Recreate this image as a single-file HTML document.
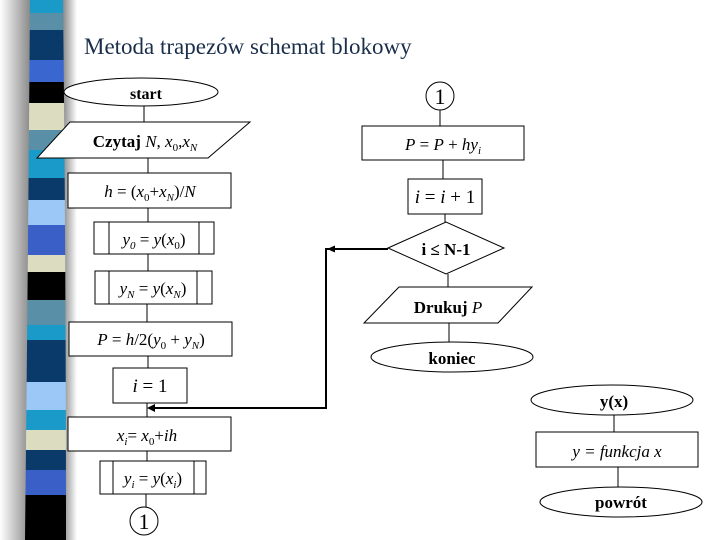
<!DOCTYPE html>
<html><head><meta charset="utf-8"><style>
html,body{margin:0;padding:0;background:#fff;}
svg{display:block;}
text{font-family:"Liberation Serif",serif;}
</style></head><body>
<svg width="720" height="540" viewBox="0 0 720 540" xmlns="http://www.w3.org/2000/svg">
<defs>
<linearGradient id="sl" x1="0" x2="1"><stop offset="0" stop-color="#fff"/><stop offset="1" stop-color="#8a8a8a"/></linearGradient>
<linearGradient id="sr" x1="0" x2="1"><stop offset="0" stop-color="#8a8a8a"/><stop offset="1" stop-color="#fff"/></linearGradient>
<clipPath id="bar"><path d="M30 0 L63 0 Q66 270 66 540 L25 540 Q28 270 30 0Z"/></clipPath>
</defs>
<rect x="0" y="0" width="30" height="540" fill="url(#sl)"/>
<rect x="63" y="0" width="14" height="540" fill="url(#sr)"/>
<g clip-path="url(#bar)">
<rect x="0" y="0" width="80" height="13" fill="#1a9ac8"/>
<rect x="0" y="13" width="80" height="17" fill="#5a8fa8"/>
<rect x="0" y="30" width="80" height="30" fill="#0a3a6a"/>
<rect x="0" y="60" width="80" height="22" fill="#3a66d0"/>
<rect x="0" y="82" width="80" height="21" fill="#000"/>
<rect x="0" y="103" width="80" height="27" fill="#dcdcc0"/>
<rect x="0" y="130" width="80" height="20" fill="#5a8fa8"/>
<rect x="0" y="150" width="80" height="28" fill="#1a9ac8"/>
<rect x="0" y="178" width="80" height="22" fill="#0a3a6a"/>
<rect x="0" y="200" width="80" height="25" fill="#9cc8f8"/>
<rect x="0" y="225" width="80" height="30" fill="#3a60c8"/>
<rect x="0" y="255" width="80" height="17" fill="#dcdcc0"/>
<rect x="0" y="272" width="80" height="28" fill="#000"/>
<rect x="0" y="300" width="80" height="25" fill="#5a8fa8"/>
<rect x="0" y="325" width="80" height="15" fill="#1a9ac8"/>
<rect x="0" y="340" width="80" height="42" fill="#0a3a6a"/>
<rect x="0" y="382" width="80" height="28" fill="#9cc8f8"/>
<rect x="0" y="410" width="80" height="20" fill="#1a9ac8"/>
<rect x="0" y="430" width="80" height="20" fill="#dcdcc0"/>
<rect x="0" y="450" width="80" height="20" fill="#0a3a6a"/>
<rect x="0" y="470" width="80" height="25" fill="#3a60c8"/>
<rect x="0" y="495" width="80" height="45" fill="#000"/>
</g>
<text x="84" y="54" font-size="23" fill="#1a2e4a">Metoda trapezów schemat blokowy</text>

<g stroke="#000" stroke-width="1" fill="#fff">
<!-- left column connectors -->
<line x1="144" y1="106" x2="144" y2="122"/>
<line x1="148" y1="158" x2="148" y2="173"/>
<line x1="148" y1="208" x2="148" y2="222"/>
<line x1="148" y1="254" x2="148" y2="271"/>
<line x1="147" y1="304" x2="147" y2="322"/>
<line x1="148" y1="356" x2="148" y2="368"/>
<line x1="147" y1="403" x2="147" y2="417"/>
<line x1="147" y1="451" x2="147" y2="461"/>
<line x1="146" y1="494" x2="146" y2="507"/>
<ellipse cx="141" cy="92" rx="77" ry="14"/>
<polygon points="70,122 250,122 208,158 37,158"/>
<rect x="68" y="173" width="163" height="35"/>
<rect x="94" y="222" width="120" height="32"/>
<line x1="109" y1="222" x2="109" y2="254"/><line x1="199" y1="222" x2="199" y2="254"/>
<rect x="95" y="271" width="117" height="33"/>
<line x1="109" y1="271" x2="109" y2="304"/><line x1="197" y1="271" x2="197" y2="304"/>
<rect x="69" y="322" width="163" height="34"/>
<rect x="113" y="368" width="74" height="35"/>
<rect x="68" y="417" width="163" height="34"/>
<rect x="100" y="461" width="106" height="33"/>
<line x1="113" y1="461" x2="113" y2="494"/><line x1="194" y1="461" x2="194" y2="494"/>
<circle cx="144" cy="521" r="14"/>
<!-- right column -->
<line x1="440" y1="110" x2="440" y2="126"/>
<line x1="443" y1="160" x2="443" y2="179"/>
<line x1="445" y1="214" x2="445" y2="222"/>
<line x1="448" y1="274" x2="448" y2="287"/>
<line x1="449" y1="323" x2="449" y2="342"/>
<circle cx="440" cy="96" r="14"/>
<rect x="362" y="126" width="162" height="34"/>
<rect x="408" y="179" width="74" height="35"/>
<polygon points="388,248 446,222 504,248 446,274"/>
<polygon points="399,287 532,287 498,323 364,323"/>
<ellipse cx="452" cy="357" rx="81" ry="15"/>
<line x1="614" y1="415" x2="614" y2="432"/>
<line x1="618" y1="467" x2="618" y2="487"/>
<ellipse cx="612" cy="400" rx="81" ry="15"/>
<rect x="536" y="432" width="162" height="35"/>
<ellipse cx="621" cy="502" rx="81" ry="15"/>
</g>
<!-- loop arrows -->
<g stroke="#000" stroke-width="2" fill="none">
<polyline points="388,249 326,249 326,408 152,408"/>
<line x1="326" y1="249" x2="334" y2="249"/>
</g>
<polygon points="147,408 155,404 155,412" fill="#000"/>
<polygon points="327,249 335,245.5 335,252.5" fill="#000"/>

<g font-size="17" fill="#000" text-anchor="middle">
<text x="146" y="99" font-weight="bold" font-size="16">start</text>
<text x="145" y="147"><tspan font-weight="bold">Czytaj</tspan> <tspan font-style="italic">N</tspan>, <tspan font-style="italic">x</tspan><tspan font-size="11" dy="4">0</tspan><tspan dy="-4">,</tspan><tspan font-style="italic">x</tspan><tspan font-size="11" dy="4" font-style="italic">N</tspan></text>
<text x="150" y="197"><tspan font-style="italic">h</tspan> = (<tspan font-style="italic">x</tspan><tspan font-size="11" dy="4">0</tspan><tspan dy="-4">+</tspan><tspan font-style="italic">x</tspan><tspan font-size="11" dy="4" font-style="italic">N</tspan><tspan dy="-4">)/</tspan><tspan font-style="italic">N</tspan></text>
<text x="154" y="245"><tspan font-style="italic">y</tspan><tspan font-size="11" dy="4" font-style="italic">0</tspan><tspan dy="-4"> = </tspan><tspan font-style="italic">y</tspan>(<tspan font-style="italic">x</tspan><tspan font-size="11" dy="4">0</tspan><tspan dy="-4">)</tspan></text>
<text x="153" y="294"><tspan font-style="italic">y</tspan><tspan font-size="11" dy="4" font-style="italic">N</tspan><tspan dy="-4"> = </tspan><tspan font-style="italic">y</tspan>(<tspan font-style="italic">x</tspan><tspan font-size="11" dy="4" font-style="italic">N</tspan><tspan dy="-4">)</tspan></text>
<text x="151" y="345"><tspan font-style="italic">P</tspan> = <tspan font-style="italic">h</tspan>/2(<tspan font-style="italic">y</tspan><tspan font-size="11" dy="4">0</tspan><tspan dy="-4"> + </tspan><tspan font-style="italic">y</tspan><tspan font-size="11" dy="4" font-style="italic">N</tspan><tspan dy="-4">)</tspan></text>
<text x="150" y="392" font-size="19"><tspan font-style="italic">i</tspan> = 1</text>
<text x="147" y="441"><tspan font-style="italic">x</tspan><tspan font-size="11" dy="4" font-style="italic">i</tspan><tspan dy="-4">= </tspan><tspan font-style="italic">x</tspan><tspan font-size="11" dy="4">0</tspan><tspan dy="-4">+</tspan><tspan font-style="italic">ih</tspan></text>
<text x="153" y="484"><tspan font-style="italic">y</tspan><tspan font-size="11" dy="4" font-style="italic">i</tspan><tspan dy="-4"> = </tspan><tspan font-style="italic">y</tspan>(<tspan font-style="italic">x</tspan><tspan font-size="11" dy="4" font-style="italic">i</tspan><tspan dy="-4">)</tspan></text>
<text x="144" y="529" font-size="22">1</text>
<text x="440" y="104" font-size="22">1</text>
<text x="443" y="150"><tspan font-style="italic">P</tspan> = <tspan font-style="italic">P</tspan> + <tspan font-style="italic">hy</tspan><tspan font-size="11" dy="4" font-style="italic">i</tspan></text>
<text x="445" y="203" font-size="19"><tspan font-style="italic">i</tspan> = <tspan font-style="italic">i</tspan> + 1</text>
<text x="446" y="255" font-weight="bold" font-size="17">i ≤ N-1</text>
<text x="448" y="313"><tspan font-weight="bold">Drukuj</tspan> <tspan font-style="italic">P</tspan></text>
<text x="452" y="364" font-weight="bold" font-size="17">koniec</text>
<text x="614" y="407" font-weight="bold" font-size="17">y(x)</text>
<text x="617" y="457" font-style="italic">y = funkcja x</text>
<text x="621" y="508" font-weight="bold" font-size="17">powrót</text>
</g>
</svg>
</body></html>
